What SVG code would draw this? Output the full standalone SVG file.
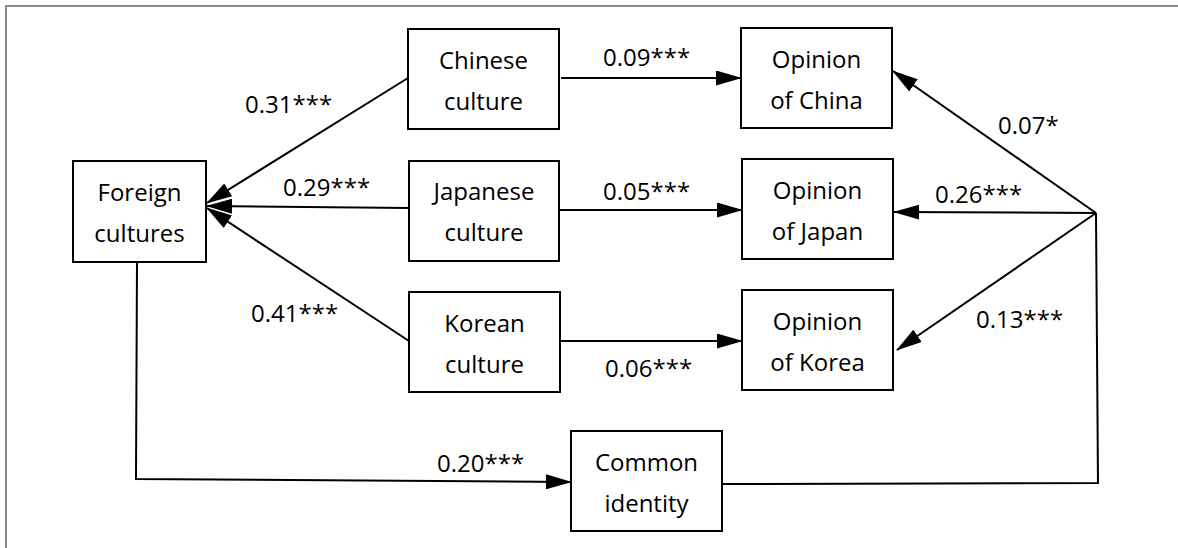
<svg xmlns="http://www.w3.org/2000/svg" width="1178" height="548" viewBox="0 0 1178 548">
<defs>
<marker id="ah" viewBox="0 0 26 15" markerUnits="userSpaceOnUse" markerWidth="26" markerHeight="15" refX="25" refY="7.5" orient="auto">
<path d="M0,0 L26,7.5 L0,15 z" fill="#000"/>
</marker>
<style>
.box{fill:#fff;stroke:#000;stroke-width:2}
.t{font-family:"Open Sans","Liberation Sans",sans-serif;font-size:24px;fill:#000}
.c{text-anchor:middle}
.ln{fill:none;stroke:#000;stroke-width:2}
.ar{marker-end:url(#ah)}
.frame{fill:none;stroke:#8a8a8a;stroke-width:2}
</style>
</defs>
<rect width="1178" height="548" fill="#fff"/>
<path class="frame" d="M6,548 L6,6 L1178,6"/>
<g id="connectors">
<path class="ln ar" d="M408,78 L207,203"/>
<path class="ln ar" d="M409,208 L207,206"/>
<path class="ln ar" d="M409,341 L207,208"/>
<path class="ln ar" d="M561,78 L741,78"/>
<path class="ln ar" d="M559,210 L742,210"/>
<path class="ln ar" d="M560,341 L742,341"/>
<path class="ln ar" d="M137,262 L136,479 L571,482"/>
<path class="ln" d="M722,484 L1098,483 L1096,213"/>
<path class="ln ar" d="M1096,213 L893,71"/>
<path class="ln ar" d="M1096,213 L894,212"/>
<path class="ln ar" d="M1096,213 L897,350"/>
<text class="t" x="245" y="113">0.31***</text>
<text class="t" x="283" y="196">0.29***</text>
<text class="t" x="251" y="322">0.41***</text>
<text class="t" x="603" y="66">0.09***</text>
<text class="t" x="603" y="200">0.05***</text>
<text class="t" x="605" y="377">0.06***</text>
<text class="t" x="437" y="472">0.20***</text>
<text class="t" x="998" y="134">0.07*</text>
<text class="t" x="935" y="203">0.26***</text>
<text class="t" x="976" y="328">0.13***</text>
</g>
<g id="foreign">
<rect class="box" x="73" y="161" width="133" height="101"/>
<text class="t c" x="139.5" y="201">Foreign</text>
<text class="t c" x="139.5" y="242">cultures</text>
</g>
<g id="chinese">
<rect class="box" x="408" y="29" width="151" height="100"/>
<text class="t c" x="483.5" y="69">Chinese</text>
<text class="t c" x="483.5" y="110">culture</text>
</g>
<g id="japanese">
<rect class="box" x="409" y="161" width="150" height="100"/>
<text class="t c" x="484" y="200">Japanese</text>
<text class="t c" x="484" y="241">culture</text>
</g>
<g id="korean">
<rect class="box" x="409" y="292" width="151" height="100"/>
<text class="t c" x="484.5" y="332">Korean</text>
<text class="t c" x="484.5" y="373">culture</text>
</g>
<g id="opchina">
<rect class="box" x="741" y="28" width="151" height="100"/>
<text class="t c" x="816.5" y="68">Opinion</text>
<text class="t c" x="816.5" y="109">of China</text>
</g>
<g id="opjapan">
<rect class="box" x="742" y="159" width="151" height="100"/>
<text class="t c" x="817.5" y="199">Opinion</text>
<text class="t c" x="817.5" y="240">of Japan</text>
</g>
<g id="opkorea">
<rect class="box" x="742" y="290" width="151" height="100"/>
<text class="t c" x="817.5" y="330">Opinion</text>
<text class="t c" x="817.5" y="371">of Korea</text>
</g>
<g id="common">
<rect class="box" x="571" y="431" width="151" height="100"/>
<text class="t c" x="646.5" y="471">Common</text>
<text class="t c" x="646.5" y="512">identity</text>
</g>
</svg>
